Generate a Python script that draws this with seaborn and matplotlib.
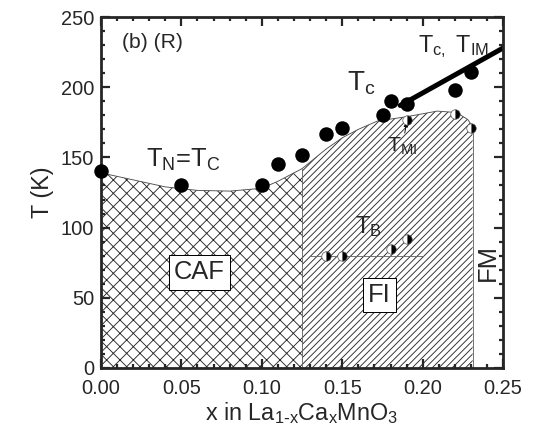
import numpy as np
import seaborn as sns
import matplotlib.pyplot as plt

# data
tc_x = [0.00, 0.05, 0.10, 0.11, 0.125, 0.14, 0.15, 0.175, 0.18, 0.19, 0.22, 0.23]
tc_T = [140, 130, 130, 145, 152, 167, 171, 180, 190, 188, 198, 211]

tmi_x = [0.19, 0.22, 0.23]
tmi_T = [177, 181, 171]

tb_x = [0.14, 0.15, 0.18, 0.19]
tb_T = [80, 80, 85, 92]

fit_x = [0.186, 0.25]
fit_T = [187, 228]

caf_x = [0.0, 0.02, 0.04, 0.06, 0.08, 0.10, 0.11, 0.125]
caf_T = [139, 134, 129, 126.5, 126, 128, 133, 142]
fi_x = [0.125, 0.14, 0.15, 0.16, 0.172, 0.19, 0.209, 0.221, 0.228, 0.231]
fi_T = [142, 156, 164, 170, 176, 179, 183, 182, 177, 172]

sns.set_style("ticks")
plt.rcParams['font.family'] = ['Liberation Sans', 'DejaVu Sans']
plt.rcParams['mathtext.default'] = 'regular'
plt.rcParams['hatch.color'] = '0.15'
plt.rcParams['hatch.linewidth'] = 0.8

fig = plt.figure(figsize=(537/80, 438/80), dpi=80)
ax = fig.add_axes([0.188, 0.160, 0.749, 0.801])

# phase regions
ax.fill_between(caf_x, 0, caf_T, facecolor='none', edgecolor='0.15', lw=0, hatch='xx')
ax.fill_between(fi_x, 0, fi_T, facecolor='none', edgecolor='0.15', lw=0, hatch='////')
ax.plot(caf_x + fi_x[1:], caf_T + fi_T[1:], color='0.3', lw=0.8)
ax.plot([caf_x[-1], caf_x[-1]], [0, caf_T[-1]], color='0.4', lw=0.8)
ax.plot([fi_x[-1], fi_x[-1]], [0, fi_T[-1]], color='0.4', lw=0.8)

# T_B guide line
ax.plot([0.13, 0.20], [80, 80], color='0.4', lw=0.8)

sns.lineplot(x=fit_x, y=fit_T, color='k', lw=4.5, ax=ax)
sns.scatterplot(x=tc_x, y=tc_T, color='k', s=170, edgecolor='k', linewidth=0, ax=ax, zorder=5, clip_on=False)
ax.plot(tmi_x, tmi_T, 'o', ms=8.5, fillstyle='right', color='k',
        markerfacecoloralt='white', markeredgecolor='0.3', mew=0.6, zorder=6)
ax.plot(tb_x, tb_T, 'o', ms=8.5, fillstyle='right', color='k',
        markerfacecoloralt='white', markeredgecolor='0.3', mew=0.6, zorder=6)

# labels
ax.text(0.013, 228, '(b) (R)', fontsize=19, va='baseline')
ax.text(0.028, 143, '$T_N$=$T_C$', fontsize=23, va='baseline')
ax.text(0.153, 198, '$T_c$', fontsize=25, va='baseline')
ax.text(0.197, 225, '$T_{c,}$ $T_{IM}$', fontsize=21, va='baseline')
ax.text(0.158, 96, '$T_B$', fontsize=21, va='baseline')
ax.annotate('$T_{MI}$', xy=(0.19, 175), xytext=(0.178, 154), fontsize=19,
            va='baseline', arrowprops=dict(arrowstyle='-|>', color='k', lw=0.8,
                                           shrinkA=0, shrinkB=0, mutation_scale=8))
bbox = dict(boxstyle='square,pad=0.2', facecolor='white', edgecolor='k', lw=0.9)
ax.text(0.061, 68, 'CAF', fontsize=23, ha='center', va='center', bbox=bbox)
ax.text(0.173, 52, 'FI', fontsize=23, ha='center', va='center', bbox=bbox)
ax.text(0.2405, 75, 'FM', fontsize=23, ha='center', va='center', rotation=90)

ax.set_xlim(0, 0.25)
ax.set_ylim(0, 250)
ax.set_xticks(np.arange(0, 0.251, 0.05))
ax.set_xticklabels(['0.00', '0.05', '0.10', '0.15', '0.20', '0.25'])
ax.set_yticks(np.arange(0, 251, 50))
ax.set_xticks(np.arange(0, 0.251, 0.01), minor=True)
ax.set_yticks(np.arange(0, 251, 10), minor=True)
ax.tick_params(which='both', direction='in', top=True, right=True, width=2, labelsize=18)
ax.tick_params(axis='x', pad=10)
ax.tick_params(axis='y', pad=6)
ax.tick_params(which='major', length=8)
ax.tick_params(which='minor', length=4)
for s in ax.spines.values():
    s.set_linewidth(2.5)

ax.set_xlabel(r'x in $La_{1\text{-}x}Ca_xMnO_3$', fontsize=21, labelpad=2)
ax.set_ylabel('T (K)', fontsize=21, labelpad=6)

fig.savefig('out.png', dpi=80)
